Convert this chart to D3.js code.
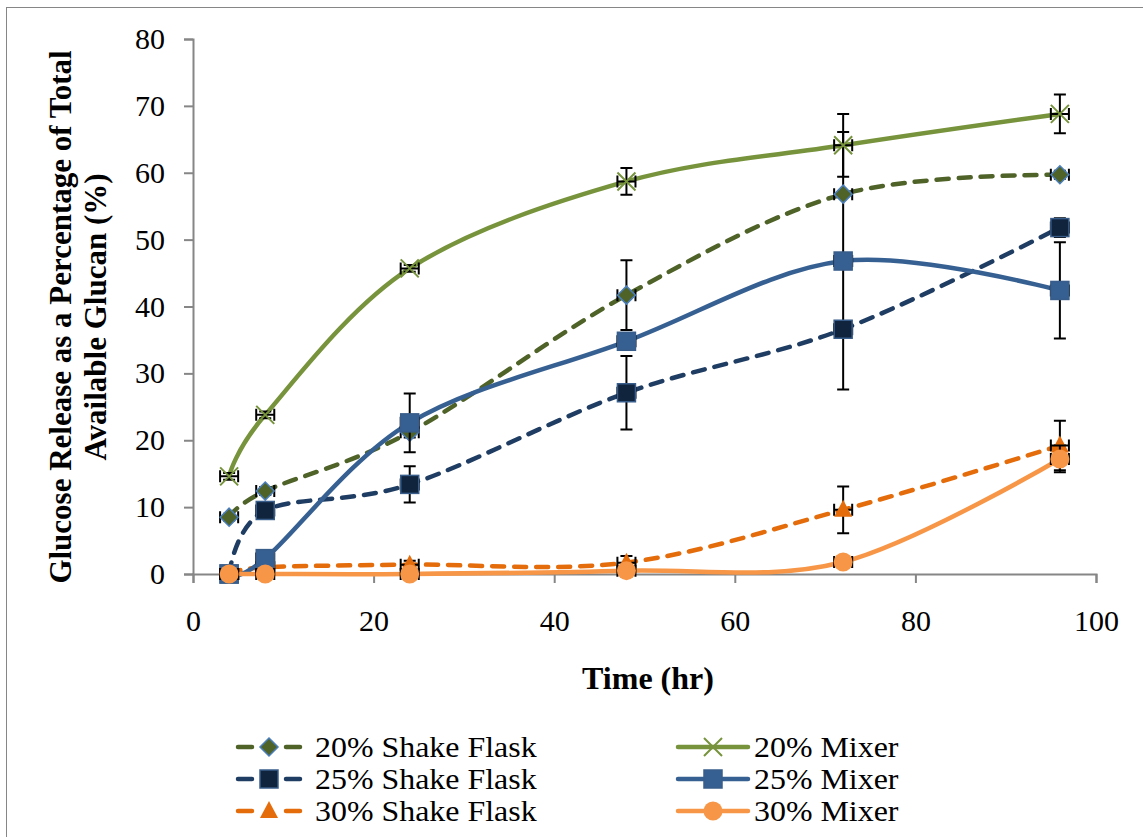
<!DOCTYPE html>
<html>
<head>
<meta charset="utf-8">
<script src="https://cdn.jsdelivr.net/npm/d3@7"></script>
<style>
body{margin:0;background:#fff}
svg text{font-family:'Liberation Serif','Tinos','Times New Roman','DejaVu Serif',serif;fill:#000}
</style>
</head>
<body>
<svg id="chart" width="1143" height="837"></svg>
<script>
'use strict';

// sampling times (hr)
var hours=[4,8,24,48,72,96];
var xTicks=[0,20,40,60,80,100];
var yTicks=[0,10,20,30,40,50,60,70,80];

// glucose release (% of total glucan) and error
var shake20=[8.5,12.4,21.2,41.7,56.8,59.7];
var shake20Err=[0.5,0.6,0.8,5.2,9.3,0.6];
var shake25=[0,9.5,13.4,27.1,36.6,51.8];
var shake25Err=[0.3,0.8,2.7,5.5,9.0,1.4];
var shake30=[0,1.0,1.4,1.7,9.6,19.2];
var shake30Err=[0.3,0.5,0.6,1.0,3.5,3.7];
var mixer20=[14.6,23.8,45.7,58.7,64.1,68.8];
var mixer20Err=[0.5,0.5,0.5,2.0,4.7,2.9];
var mixer25=[0,2.3,22.6,34.8,46.8,42.4];
var mixer25Err=[0.2,0.8,4.4,1.0,0.5,7.2];
var mixer30=[0,0,0,0.5,1.8,17.2];
var mixer30Err=[0.2,0.2,0.2,0.3,0.4,2.0];
var hourErr=1;

var series=[
    {name:'20% Shake Flask',v:shake20,e:shake20Err,line:'#4F6228',dash:true,mark:'diamond',fill:'#4F6228',edge:'#4A7EBB'}
  , {name:'25% Shake Flask',v:shake25,e:shake25Err,line:'#1F3D63',dash:true,mark:'square',fill:'#10243E',edge:'#385D8A'}
  , {name:'30% Shake Flask',v:shake30,e:shake30Err,line:'#E46C0A',dash:true,mark:'triangle',fill:'#E46C0A',edge:'#E46C0A'}
  , {name:'20% Mixer',v:mixer20,e:mixer20Err,line:'#77933C',dash:false,mark:'x',fill:'none',edge:'#77933C'}
  , {name:'25% Mixer',v:mixer25,e:mixer25Err,line:'#376092',dash:false,mark:'square',fill:'#376092',edge:'#385D8A'}
  , {name:'30% Mixer',v:mixer30,e:mixer30Err,line:'#F79646',dash:false,mark:'circle',fill:'#F79646',edge:'#F79646'}
];

var svg=d3.select('#chart');

svg.append('rect')
    .attr('x',6.5).attr('y',7.5)
    .attr('width',1140).attr('height',840)
    .attr('fill','#fff')
    .attr('stroke','#868686');

var x=d3.scaleLinear().domain([0,100]).range([193,1096]);
var y=d3.scaleLinear().domain([0,80]).range([574,39]);

// axes
var yAxis=svg.append('g')
    .attr('transform','translate(193,0)')
    .call(d3.axisLeft(y).tickValues(yTicks).tickSize(9).tickPadding(19));
var xAxis=svg.append('g')
    .attr('transform','translate(0,574)')
    .call(d3.axisBottom(x).tickValues(xTicks).tickSize(9).tickPadding(27));

[xAxis,yAxis].forEach(function(a){
    a.attr('font-family',null);
    a.select('.domain').attr('stroke','#868686').attr('stroke-width',2);
    a.selectAll('.tick line').attr('stroke','#868686').attr('stroke-width',2);
    a.selectAll('.tick text')
        .attr('fill','#000')
        .style('font-size','30px');
});

svg.append('text')
    .attr('x',648).attr('y',689)
    .attr('text-anchor','middle')
    .style('font-size','32px').style('font-weight','bold')
    .text('Time (hr)');

var yt=svg.append('text')
    .attr('transform','translate(0,317) rotate(-90)')
    .attr('text-anchor','middle')
    .style('font-size','31px').style('font-weight','bold');
yt.append('tspan').attr('x',0).attr('y',71).text('Glucose Release as a Percentage of Total');
yt.append('tspan').attr('x',0).attr('y',106).text('Available Glucan (%)');

function marker(g,s,cx,cy){
    if(s.mark=='diamond'){
        g.append('path')
            .attr('d','M'+cx+','+(cy-9)+'L'+(cx+9)+','+cy+'L'+cx+','+(cy+9)+'L'+(cx-9)+','+cy+'Z')
            .attr('fill',s.fill).attr('stroke',s.edge).attr('stroke-width',1.5);
    }else if(s.mark=='square'){
        g.append('rect')
            .attr('x',cx-9).attr('y',cy-9).attr('width',18).attr('height',18)
            .attr('fill',s.fill).attr('stroke',s.edge).attr('stroke-width',1.5);
    }else if(s.mark=='triangle'){
        g.append('path')
            .attr('d','M'+cx+','+(cy-10)+'L'+(cx+9)+','+(cy+7)+'L'+(cx-9)+','+(cy+7)+'Z')
            .attr('fill',s.fill);
    }else if(s.mark=='circle'){
        g.append('circle')
            .attr('cx',cx).attr('cy',cy).attr('r',9.5)
            .attr('fill',s.fill);
    }else{
        g.append('path')
            .attr('d','M'+(cx-9)+','+(cy-9)+'L'+(cx+9)+','+(cy+9)+'M'+(cx+9)+','+(cy-9)+'L'+(cx-9)+','+(cy+9))
            .attr('fill','none').attr('stroke',s.edge).attr('stroke-width',2);
    }
}

var line=d3.line()
    .x(function(d){return x(d[0]);})
    .y(function(d){return y(d[1]);})
    .curve(d3.curveCardinal.tension(0));

series.forEach(function(s){
    var g=svg.append('g');
    var pts=hours.map(function(h,i){return [h,s.v[i],s.e[i]];});

    g.append('path')
        .attr('d',line(pts))
        .attr('fill','none')
        .attr('stroke',s.line)
        .attr('stroke-width',4.5)
        .attr('stroke-linecap','round')
        .attr('stroke-dasharray',s.dash?'12,10':null);

    var eb=g.append('g').attr('stroke','#000').attr('stroke-width',2).attr('fill','none');
    pts.forEach(function(p){
        var cx=x(p[0]), cy=y(p[1]), t=y(p[1]+p[2]), b=y(p[1]-p[2]);
        var l=x(p[0]-hourErr), r=x(p[0]+hourErr);
        eb.append('path').attr('d','M'+cx+','+t+'V'+b+'M'+(cx-6)+','+t+'H'+(cx+6)+'M'+(cx-6)+','+b+'H'+(cx+6));
        eb.append('path').attr('d','M'+l+','+cy+'H'+r+'M'+l+','+(cy-6)+'V'+(cy+6)+'M'+r+','+(cy-6)+'V'+(cy+6));
    });

    pts.forEach(function(p){
        marker(g,s,x(p[0]),y(p[1]));
    });
});

// legend
var legend=svg.append('g');
series.forEach(function(s,i){
    var col=i<3?0:1, row=i%3;
    var lx=col==0?238:678, ly=747+row*32;
    var w=col==0?62:70;
    var g=legend.append('g');
    g.append('path')
        .attr('d','M'+lx+','+ly+'H'+(lx+w))
        .attr('stroke',s.line)
        .attr('stroke-width',4.5)
        .attr('stroke-linecap','round')
        .attr('stroke-dasharray',s.dash?'14,34':null);
    marker(g,s,lx+w/2,ly);
    g.append('text')
        .attr('transform','translate('+(col==0?315:754)+','+(ly+10)+') scale(1.12,1)')
        .style('font-size','28.5px')
        .text(s.name);
});
</script>
</body>
</html>
